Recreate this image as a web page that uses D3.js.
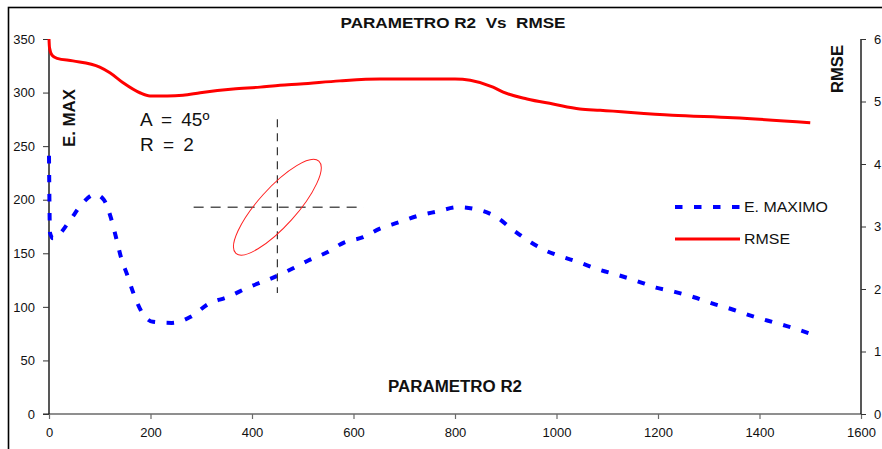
<!DOCTYPE html>
<html>
<head>
<meta charset="utf-8">
<script src="https://cdn.jsdelivr.net/npm/d3@7"></script>
<style>
  html, body { margin: 0; padding: 0; background: #fff; }
  svg { display: block; font-family: "Liberation Sans", Arial, sans-serif; }
  text { white-space: pre; }
</style>
</head>
<body>
<svg id="chart" width="882" height="449"></svg>
<script>
// PARAMETRO R2 (x) against E. MAXIMO (left axis) and RMSE (right axis)
const r2Emax = [0, 2, 8, 39, 63, 91, 108, 122, 132, 142, 154, 167, 183, 205, 242, 280, 315, 351, 392, 445,
  481, 510, 548, 581, 619, 652, 690, 727, 765, 806, 843, 881, 914, 950, 981, 1009, 1042, 1082, 1119, 1159,
  1196, 1233, 1271, 1308, 1344, 1381, 1417, 1454, 1500];
const emaxValues = [241, 169, 164, 179, 195, 205, 200, 183, 165, 146, 130, 112, 95, 86, 85, 91, 103, 109, 118, 128,
  136, 143, 151, 160, 165, 173, 179, 185, 189, 193, 191, 184, 172, 160, 152, 147, 142, 135, 130, 124,
  118, 114, 109, 103, 98, 92, 87, 82, 75];

const r2Rmse = [0, 1, 6, 16, 47, 100, 120, 146, 179, 199, 233, 264, 298, 363, 416, 455, 495, 573, 652, 800,
  830, 875, 895, 942, 993, 1046, 1086, 1228, 1348, 1500];
const rmseValues = [6.0, 5.86, 5.74, 5.69, 5.65, 5.55, 5.46, 5.30, 5.14, 5.09, 5.09, 5.10, 5.14, 5.20, 5.23, 5.26,
  5.28, 5.33, 5.36, 5.36, 5.34, 5.23, 5.15, 5.04, 4.96, 4.88, 4.86, 4.78, 4.74, 4.66];

const xTicks = [0, 200, 400, 600, 800, 1000, 1200, 1400, 1600];
const leftTicks = [0, 50, 100, 150, 200, 250, 300, 350];
const rightTicks = [0, 1, 2, 3, 4, 5, 6];

// Annotation: angle / radius marker and its crosshair (in data units)
const markerR2 = 450;
const markerEmax = 193;
const crossV = [113, 275];     // vertical crosshair span, E. MAX units
const crossH = [285, 620];     // horizontal crosshair span, R2 units
const annotationLines = ["A = 45º", "R = 2"];

const svg = d3.select("#chart");
const x = d3.scaleLinear().domain([0, 1600]).range([49, 861]);
const yL = d3.scaleLinear().domain([0, 350]).range([414, 39]);
const yR = d3.scaleLinear().domain([0, 6]).range([414, 39]);

// outer frame
svg.append("rect").attr("x", 8.5).attr("y", 7.5).attr("width", 920).attr("height", 480)
  .attr("fill", "none").attr("stroke", "#000").attr("stroke-width", 1.6);

// axes
const fontAxis = 13;
const gx = svg.append("g").attr("transform", "translate(0,414)")
  .call(d3.axisBottom(x).tickValues(xTicks).tickSize(5).tickPadding(9).tickFormat(d3.format("d")));
gx.select(".domain").attr("stroke", "#6a6a6a").attr("stroke-width", 1.6).attr("d", "M43,0H861");
gx.selectAll(".tick line").attr("stroke", "#6a6a6a").attr("stroke-width", 1.2);

const gl = svg.append("g").attr("transform", "translate(49,0)")
  .call(d3.axisLeft(yL).tickValues(leftTicks).tickSize(6).tickPadding(8).tickFormat(d3.format("d")));
gl.select(".domain").attr("stroke", "#111").attr("stroke-width", 1.4).attr("d", "M0,39V414");
gl.selectAll(".tick line").attr("stroke", "#333");

const gr = svg.append("g").attr("transform", "translate(861,0)")
  .call(d3.axisRight(yR).tickValues(rightTicks).tickSize(5).tickPadding(8).tickFormat(d3.format("d")));
gr.select(".domain").attr("stroke", "#111").attr("stroke-width", 1.4).attr("d", "M0,39V414");
gr.selectAll(".tick line").attr("stroke", "#333");

svg.selectAll(".tick text").attr("font-size", fontAxis).attr("fill", "#111")
  .attr("font-family", "'Liberation Sans', Arial, sans-serif");

// series lines
const lineE = d3.line().x((d, i) => x(r2Emax[i])).y(d => yL(d)).curve(d3.curveMonotoneX);
const lineR = d3.line().x((d, i) => x(r2Rmse[i])).y(d => yR(d)).curve(d3.curveMonotoneX);

svg.append("path").datum(rmseValues).attr("d", lineR)
  .attr("fill", "none").attr("stroke", "#ff0000").attr("stroke-width", 3).attr("stroke-linejoin", "round");

svg.append("path").datum(emaxValues).attr("d", lineE)
  .attr("fill", "none").attr("stroke", "#0000ff").attr("stroke-width", 4)
  .attr("stroke-dasharray", "7.5,11.5");

// crosshair and ellipse annotation
const cx = x(markerR2), cy = yL(markerEmax);
svg.append("line").attr("x1", cx).attr("x2", cx).attr("y1", yL(crossV[1])).attr("y2", yL(crossV[0]))
  .attr("stroke", "#333").attr("stroke-width", 1.2).attr("stroke-dasharray", "8,6");
svg.append("line").attr("x1", x(crossH[0])).attr("x2", x(crossH[1])).attr("y1", cy).attr("y2", cy)
  .attr("stroke", "#555").attr("stroke-width", 1.4).attr("stroke-dasharray", "10,7");
svg.append("ellipse").attr("cx", cx).attr("cy", cy).attr("rx", 62).attr("ry", 19)
  .attr("transform", `rotate(-48,${cx},${cy})`)
  .attr("fill", "none").attr("stroke", "#ff2020").attr("stroke-width", 1);

const ann = svg.append("g").attr("font-family", "'Liberation Sans', Arial, sans-serif")
  .attr("font-size", 19).attr("fill", "#111").attr("word-spacing", 4);
ann.append("text").attr("x", 140).attr("y", 126).text(annotationLines[0]);
ann.append("text").attr("x", 140).attr("y", 151).text(annotationLines[1]);

// titles
svg.append("text").attr("x", 453).attr("y", 28).attr("text-anchor", "middle")
  .attr("font-size", 15).attr("font-weight", "bold").attr("fill", "#111")
  .attr("textLength", 225).attr("lengthAdjust", "spacingAndGlyphs")
  .text("PARAMETRO R2  Vs  RMSE");
svg.append("text").attr("x", 455).attr("y", 392).attr("text-anchor", "middle")
  .attr("font-size", 16).attr("font-weight", "bold").attr("fill", "#111")
  .attr("textLength", 134).attr("lengthAdjust", "spacingAndGlyphs")
  .text("PARAMETRO R2");
svg.append("text").attr("transform", "translate(75,118) rotate(-90)").attr("text-anchor", "middle")
  .attr("font-size", 16).attr("font-weight", "bold").attr("fill", "#111")
  .attr("textLength", 58).attr("lengthAdjust", "spacingAndGlyphs")
  .text("E. MAX");
svg.append("text").attr("transform", "translate(843,69) rotate(-90)").attr("text-anchor", "middle")
  .attr("font-size", 16).attr("font-weight", "bold").attr("fill", "#111")
  .attr("textLength", 48).attr("lengthAdjust", "spacingAndGlyphs")
  .text("RMSE");

// legend
const legend = svg.append("g").attr("font-size", 14).attr("fill", "#111");
legend.append("line").attr("x1", 675).attr("x2", 740).attr("y1", 207).attr("y2", 207)
  .attr("stroke", "#0000ff").attr("stroke-width", 4).attr("stroke-dasharray", "7.5,11.5");
legend.append("text").attr("x", 744).attr("y", 212).text("E. MAXIMO")
  .attr("textLength", 84).attr("lengthAdjust", "spacingAndGlyphs");
legend.append("line").attr("x1", 675).attr("x2", 740).attr("y1", 239).attr("y2", 239)
  .attr("stroke", "#ff0000").attr("stroke-width", 3);
legend.append("text").attr("x", 744).attr("y", 244).text("RMSE")
  .attr("textLength", 46).attr("lengthAdjust", "spacingAndGlyphs");
</script>
</body>
</html>
